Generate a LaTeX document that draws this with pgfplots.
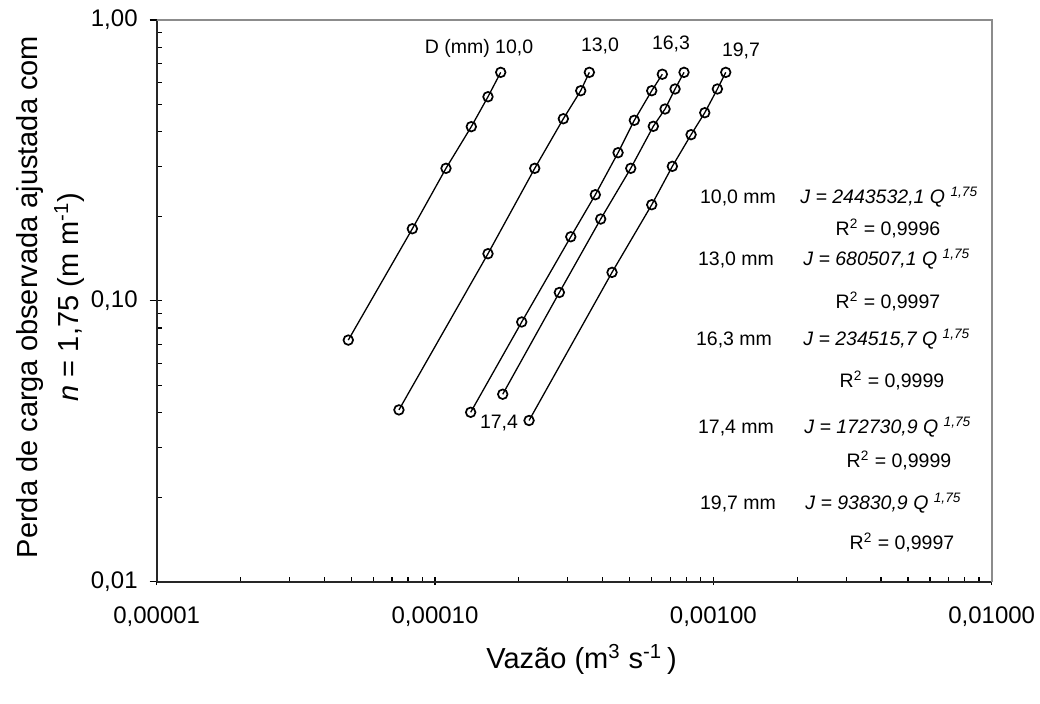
\documentclass[border=0pt]{standalone}
\usepackage{fontspec}
\setmainfont{Liberation Sans}
\usepackage{pgfplots}
\pgfplotsset{compat=1.18}
\begin{document}
\begin{tikzpicture}
\useasboundingbox (-78.35pt,-61.15pt) rectangle (441.65pt,290.85pt);
\begin{axis}[
  at={(0,0)}, anchor=south west,
  scale only axis, width=417.5pt, height=280.85pt,
  xmode=log, ymode=log,
  xmin=1e-5, xmax=1e-2, ymin=0.01, ymax=1,
  axis x line*=bottom, axis y line*=left,
  axis line style={-, line width=0.9pt, black!85},
  xtick={1e-5,1e-4,1e-3,1e-2},
  xticklabels={{0,00001},{0,00010},{0,00100},{0,01000}},
  ytick={0.01,0.1,1},
  yticklabels={{0,01},{0,10},{1,00}},
  tick align=inside,
  major tick length=3.5pt, minor tick length=2.5pt,
  every major y tick/.append style={xshift=-3.5pt},
  every major x tick/.append style={yshift=-1.75pt},
  tick style={black, line width=0.6pt},
  ticklabel style={font=\fontsize{12}{14}\selectfont},
  yticklabel style={xshift=-6pt},
  xticklabel style={yshift=-9pt},
  clip=false,
]
\draw[black!45, line width=0.9pt] (rel axis cs:0,1) -- (rel axis cs:1,1) -- (rel axis cs:1,0);
\pgfplotsset{ser/.style={black, line width=0.65pt, mark=o, mark size=2.4pt, mark options={line width=0.85pt, solid}}}
% D = 10,0 mm
\addplot[ser] coordinates {
 (4.88e-5,0.0725) (8.29e-5,0.1806) (1.095e-4,0.2964) (1.350e-4,0.417) (1.550e-4,0.533) (1.722e-4,0.651)};
% D = 13,0 mm
\addplot[ser] coordinates {
 (7.42e-5,0.0409) (1.550e-4,0.1472) (2.282e-4,0.2964) (2.891e-4,0.445) (3.338e-4,0.560) (3.585e-4,0.651)};
% D = 16,3 mm
\addplot[ser] coordinates {
 (1.343e-4,0.0401) (2.049e-4,0.0841) (3.074e-4,0.1691) (3.767e-4,0.2387) (4.546e-4,0.3369) (5.201e-4,0.4394) (6.007e-4,0.560) (6.557e-4,0.641)};
% D = 17,4 mm
\addplot[ser] coordinates {
 (1.751e-4,0.0465) (2.797e-4,0.1071) (3.938e-4,0.1956) (5.049e-4,0.2964) (6.086e-4,0.4183) (6.706e-4,0.482) (7.285e-4,0.568) (7.846e-4,0.651)};
% D = 19,7 mm
\addplot[ser] coordinates {
 (2.177e-4,0.0375) (4.325e-4,0.1263) (6.007e-4,0.2199) (7.124e-4,0.3013) (8.317e-4,0.3906) (9.314e-4,0.4676) (1.034e-3,0.568) (1.108e-3,0.651)};
\end{axis}
\begin{scope}[x=0.5pt, y=-0.5pt, shift={(-78.35pt,290.85pt)}, every node/.style={inner sep=0pt, font=\fontsize{9.75}{12}\selectfont}]
% axis titles
\node[rotate=90, align=center, font=\fontsize{14.5}{20.5}\selectfont] at (50.5,297) {Perda de carga observada ajustada com\\\textit{n} = 1,75 (m m\textsuperscript{-1})};
\node[anchor=base west, font=\fontsize{14.5}{17}\selectfont] at (486,669) {Vazão (m\textsuperscript{3} s\textsuperscript{-1}\,)};
% series labels
\node[anchor=base] at (479,53.7) {D (mm) 10,0};
\node[anchor=base] at (600,52) {13,0};
\node[anchor=base] at (671,49.7) {16,3};
\node[anchor=base] at (741,56.3) {19,7};
\node[anchor=base] at (499,428.7) {17,4};
% equations
\node[anchor=base] at (738,204) {10,0 mm};
\node[anchor=base west] at (800,204) {\textit{J = 2443532,1 Q }\textsuperscript{\textit{1,75}}};
\node[anchor=base] at (888,236) {R\textsuperscript{2} = 0,9996};
\node[anchor=base] at (736,266) {13,0 mm};
\node[anchor=base west] at (803,266) {\textit{J = 680507,1 Q }\textsuperscript{\textit{1,75}}};
\node[anchor=base] at (888,309) {R\textsuperscript{2} = 0,9997};
\node[anchor=base] at (734,346) {16,3 mm};
\node[anchor=base west] at (803,346) {\textit{J = 234515,7 Q }\textsuperscript{\textit{1,75}}};
\node[anchor=base] at (892,388) {R\textsuperscript{2} = 0,9999};
\node[anchor=base] at (736,434) {17,4 mm};
\node[anchor=base west] at (804,434) {\textit{J = 172730,9 Q }\textsuperscript{\textit{1,75}}};
\node[anchor=base] at (899,468) {R\textsuperscript{2} = 0,9999};
\node[anchor=base] at (738,510) {19,7 mm};
\node[anchor=base west] at (805,510) {\textit{J = 93830,9 Q }\textsuperscript{\textit{1,75}}};
\node[anchor=base] at (902,550) {R\textsuperscript{2} = 0,9997};
\end{scope}
\end{tikzpicture}
\end{document}
